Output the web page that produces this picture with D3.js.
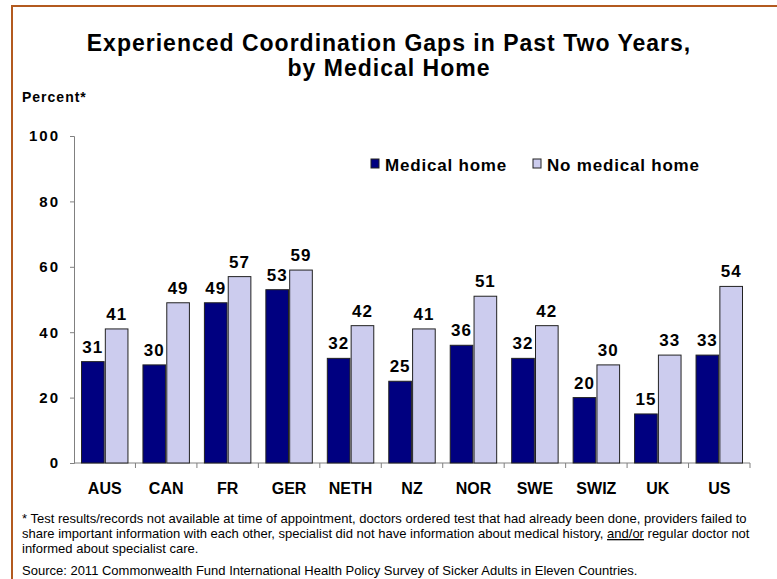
<!DOCTYPE html>
<html>
<head>
<meta charset="utf-8">
<script src="https://d3js.org/d3.v7.min.js"></script>
<style>
  body { margin: 0; background: #fff; }
  svg { display: block; font-family: "Liberation Sans", Arial, sans-serif; }
</style>
</head>
<body>
<svg id="chart" width="777" height="579"></svg>
<script>
var countries = ["AUS", "CAN", "FR", "GER", "NETH", "NZ", "NOR", "SWE", "SWIZ", "UK", "US"];
var medicalHome = [31, 30, 49, 53, 32, 25, 36, 32, 20, 15, 33];
var noMedicalHome = [41, 49, 57, 59, 42, 41, 51, 42, 30, 33, 54];
var seriesNames = ["Medical home", "No medical home"];
var yTicks = [0, 20, 40, 60, 80, 100];
var footnote = [
  "* Test results/records not available at time of appointment, doctors ordered test that had already been done, providers failed to",
  "share important information with each other, specialist did not have information about medical history, |and/or| regular doctor not",
  "informed about specialist care."
];
var source = "Source: 2011 Commonwealth Fund International Health Policy Survey of Sicker Adults in Eleven Countries.";

var colors = ["#000080", "#ccccee"];
var svg = d3.select("#chart");

// frame
svg.append("path")
  .attr("d", "M12,579 L12,6 L777,6")
  .attr("fill", "none")
  .attr("stroke", "#b35a1f")
  .attr("stroke-width", 2);

// title
var title = svg.append("text")
  .attr("text-anchor", "middle")
  .style("font-weight", "bold").style("font-size", "23px").style("letter-spacing", "1px");
title.append("tspan").attr("x", 389).attr("y", 51).text("Experienced Coordination Gaps in Past Two Years,");
title.append("tspan").attr("x", 389).attr("y", 76).text("by Medical Home");

svg.append("text").attr("x", 22).attr("y", 102)
  .style("font-weight", "bold").style("font-size", "14px").style("letter-spacing", "1px")
  .text("Percent*");

var x0 = 74, x1 = 750, y0 = 463, y1 = 136;
var x = d3.scaleBand().domain(countries).range([x0, x1]);
var y = d3.scaleLinear().domain([0, 100]).range([y0, y1]);

// y axis
var yAxis = svg.append("g").attr("transform", "translate(" + x0 + ",0)")
  .call(d3.axisLeft(y).tickValues(yTicks).tickSize(4).tickPadding(10));
yAxis.select(".domain").attr("stroke", "#808080");
yAxis.selectAll(".tick line").attr("stroke", "#808080");
yAxis.selectAll(".tick text")
  .style("font-size", "15px").style("font-weight", "bold").style("letter-spacing", "2px")
  .attr("fill", "#000");

// x axis line + ticks at category boundaries
svg.append("line").attr("x1", x0).attr("x2", x1).attr("y1", y0).attr("y2", y0)
  .attr("stroke", "#808080");
svg.selectAll(".xtick").data(countries).enter().append("line")
  .attr("class", "xtick")
  .attr("x1", function(d) { return x(d) + x.bandwidth(); })
  .attr("x2", function(d) { return x(d) + x.bandwidth(); })
  .attr("y1", y0).attr("y2", y0 + 5)
  .attr("stroke", "#808080");
svg.selectAll(".xlabel").data(countries).enter().append("text")
  .attr("class", "xlabel")
  .attr("x", function(d) { return x(d) + x.bandwidth() / 2; })
  .attr("y", 494)
  .attr("text-anchor", "middle")
  .style("font-size", "16px").style("font-weight", "bold")
  .text(function(d) { return d; });

// bars
var inner = d3.scaleBand().domain([0, 1]).range([7.5, x.bandwidth() - 7.5]).paddingInner(0.05);
var series = [medicalHome, noMedicalHome];
series.forEach(function(vals, s) {
  var g = svg.append("g");
  g.selectAll("rect").data(vals).enter().append("rect")
    .attr("x", function(d, i) { return x(countries[i]) + inner(s); })
    .attr("width", inner.bandwidth())
    .attr("y", function(d) { return y(d); })
    .attr("height", function(d) { return y0 - y(d); })
    .attr("fill", colors[s])
    .attr("stroke", "#222").attr("stroke-width", 1);
  g.selectAll("text").data(vals).enter().append("text")
    .attr("x", function(d, i) { return x(countries[i]) + inner(s) + inner.bandwidth() / 2; })
    .attr("y", function(d) { return y(d) - 9; })
    .attr("text-anchor", "middle")
    .style("font-size", "17px").style("font-weight", "bold").style("letter-spacing", "1px")
    .text(function(d) { return d; });
});

// legend
var legendX = [371, 533];
seriesNames.forEach(function(name, s) {
  svg.append("rect").attr("x", legendX[s]).attr("y", 159).attr("width", 8).attr("height", 9)
    .attr("fill", colors[s]).attr("stroke", "#222").attr("stroke-width", 1);
  svg.append("text").attr("x", legendX[s] + 14).attr("y", 171)
    .style("font-size", "17px").style("font-weight", "bold").style("letter-spacing", "0.8px")
    .text(name);
});

// footnote
footnote.forEach(function(line, i) {
  var t = svg.append("text").attr("x", 22).attr("y", 523 + i * 15).style("font-size", "13px");
  line.split("|").forEach(function(part, j) {
    var sp = t.append("tspan").text(part);
    if (j === 1) sp.attr("text-decoration", "underline");
  });
});
svg.append("text").attr("x", 22).attr("y", 575).style("font-size", "13px").text(source);
</script>
</body>
</html>
